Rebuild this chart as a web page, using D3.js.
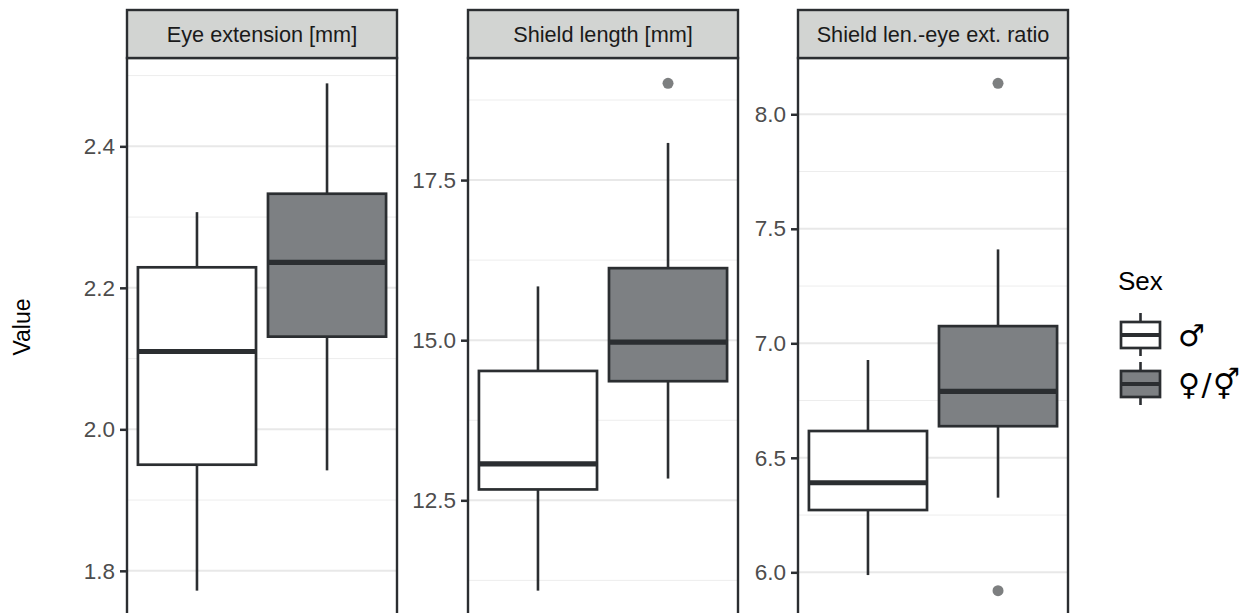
<!DOCTYPE html>
<html><head><meta charset="utf-8">
<script src="https://cdn.jsdelivr.net/npm/d3@7"></script>
<style>body{margin:0;background:#fff;} svg{display:block;font-family:"Liberation Sans",Arial,sans-serif;}</style>
</head><body>
<svg id="c" width="1256" height="613"></svg>
<script>
// ---- data ----
const panels = ["Eye extension [mm]", "Shield length [mm]", "Shield len.-eye ext. ratio"];
const sexes = ["♂", "♀/⚥"];
// [lower whisker, Q1, median, Q3, upper whisker] per panel
const maleStats = [
  [1.772, 1.950, 2.110, 2.229, 2.307],
  [11.09, 12.67, 13.07, 14.52, 15.84],
  [5.988, 6.272, 6.391, 6.617, 6.927]
];
const femaleStats = [
  [1.942, 2.131, 2.236, 2.333, 2.489],
  [12.84, 14.36, 14.97, 16.125, 18.08],
  [6.326, 6.638, 6.790, 7.075, 7.410]
];
const maleOutliers = [[], [], []];
const femaleOutliers = [[], [19.01], [8.135, 5.92]];
const majorTicks = [[1.8, 2.0, 2.2, 2.4], [12.5, 15.0, 17.5], [6.0, 6.5, 7.0, 7.5, 8.0]];
const minorTicks = [[1.9, 2.1, 2.3, 2.5], [11.25, 13.75, 16.25, 18.75], [6.25, 6.75, 7.25, 7.75]];
const tickFormats = [".1f", ".1f", ".1f"];
const fills = ["#ffffff", "#7d8083"];

// ---- layout ----
const svg = d3.select("#c");
const panelLeft = [127, 468, 798];
const panelW = 270;
const stripTop = 10, plotTop = 58, plotBottom = 616;
const dark = "#2b2e31";

panels.forEach((name, i) => {
  const x0 = panelLeft[i];
  const g = svg.append("g").attr("transform", `translate(${x0},0)`);
  const all = [...maleStats[i], ...femaleStats[i], ...maleOutliers[i], ...femaleOutliers[i]];
  const mn = d3.min(all), mx = d3.max(all), pad = (mx - mn) * 0.05;
  const y = d3.scaleLinear().domain([mn - pad, mx + pad]).range([plotBottom, plotTop]);
  const x = d3.scalePoint().domain(sexes).range([0, panelW]).padding(0.538);
  const boxW = x.step() * 0.908;

  g.append("rect").attr("x", 0).attr("y", plotTop).attr("width", panelW).attr("height", plotBottom - plotTop + 20).attr("fill", "#fff");
  g.selectAll(".minor").data(minorTicks[i]).join("line")
    .attr("x1", 0).attr("x2", panelW).attr("y1", d => y(d)).attr("y2", d => y(d))
    .attr("stroke", "#ededed").attr("stroke-width", 1);
  g.selectAll(".major").data(majorTicks[i]).join("line")
    .attr("x1", 0).attr("x2", panelW).attr("y1", d => y(d)).attr("y2", d => y(d))
    .attr("stroke", "#e8e8e8").attr("stroke-width", 2);

  const stats = [maleStats[i], femaleStats[i]];
  const outs = [maleOutliers[i], femaleOutliers[i]];
  stats.forEach((s, j) => {
    const cx = x(sexes[j]);
    g.append("line").attr("x1", cx).attr("x2", cx).attr("y1", y(s[4])).attr("y2", y(s[3]))
      .attr("stroke", dark).attr("stroke-width", 2.6);
    g.append("line").attr("x1", cx).attr("x2", cx).attr("y1", y(s[1])).attr("y2", y(s[0]))
      .attr("stroke", dark).attr("stroke-width", 2.6);
    g.append("rect").attr("x", cx - boxW / 2).attr("width", boxW)
      .attr("y", y(s[3])).attr("height", y(s[1]) - y(s[3]))
      .attr("fill", fills[j]).attr("stroke", dark).attr("stroke-width", 2.7);
    g.append("line").attr("x1", cx - boxW / 2).attr("x2", cx + boxW / 2).attr("y1", y(s[2])).attr("y2", y(s[2]))
      .attr("stroke", dark).attr("stroke-width", 5.2);
    g.selectAll(null).data(outs[j]).join("circle")
      .attr("cx", cx).attr("cy", d => y(d)).attr("r", 5.5)
      .attr("fill", "#7d7f80");
  });

  g.append("rect").attr("x", 0).attr("y", plotTop).attr("width", panelW).attr("height", plotBottom - plotTop + 20)
    .attr("fill", "none").attr("stroke", dark).attr("stroke-width", 2.4);
  g.append("rect").attr("x", 0).attr("y", stripTop).attr("width", panelW).attr("height", plotTop - stripTop)
    .attr("fill", "#d2d4d2").attr("stroke", dark).attr("stroke-width", 2.4);
  g.append("text").attr("x", panelW / 2).attr("y", (stripTop + plotTop) / 2).attr("dy", "0.35em")
    .attr("text-anchor", "middle").attr("font-size", 21.7).attr("fill", "#1a1a1a").text(name);

  const ax = g.append("g").call(d3.axisLeft(y).tickValues(majorTicks[i]).tickFormat(d3.format(tickFormats[i])).tickSize(7).tickPadding(5));
  ax.select(".domain").remove();
  ax.selectAll(".tick line").attr("stroke", dark).attr("stroke-width", 2.5);
  ax.selectAll(".tick text").attr("font-size", 22.5).attr("fill", "#4d4d4d").attr("font-family", "Liberation Sans, Arial, sans-serif");
});

svg.append("text").attr("transform", "translate(30,327) rotate(-90)").attr("text-anchor", "middle")
  .attr("font-size", 23).attr("fill", "#000").text("Value");

const lg = svg.append("g");
lg.append("text").attr("x", 1118).attr("y", 290).attr("font-size", 26).attr("fill", "#000").text("Sex");
const keyY = d3.scalePoint().domain(sexes).range([335, 384]);
sexes.forEach((s, j) => {
  const cy = keyY(s), cx = 1140.5;
  lg.append("line").attr("x1", cx).attr("x2", cx).attr("y1", cy - 22).attr("y2", cy + 21).attr("stroke", dark).attr("stroke-width", 2.6);
  lg.append("rect").attr("x", 1121).attr("y", cy - 13).attr("width", 39).attr("height", 26)
    .attr("fill", fills[j]).attr("stroke", dark).attr("stroke-width", 2.7);
  lg.append("line").attr("x1", 1121).attr("x2", 1160).attr("y1", cy).attr("y2", cy).attr("stroke", dark).attr("stroke-width", 3.8);
  lg.append("text").attr("x", 1178).attr("y", cy).attr("dy", "0.35em").attr("font-size", 30)
    .attr("letter-spacing", 1.5)
    .attr("font-family", "DejaVu Sans, sans-serif").attr("fill", "#000").text(s);
});
</script>
</body></html>
